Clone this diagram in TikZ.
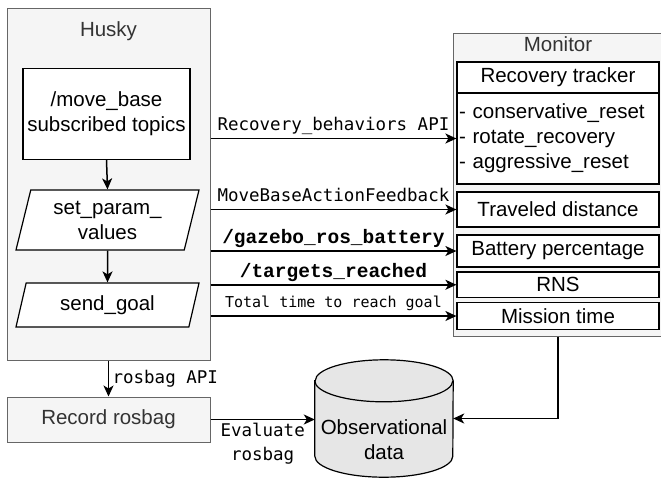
\documentclass[tikz,border=0pt]{standalone}
\usepackage{fontspec}
\setmainfont{Liberation Sans}
\newfontfamily\policemono{DejaVu Sans Mono}
\newfontfamily\policecourier{Liberation Mono}
\usetikzlibrary{arrows.meta,shapes.geometric,calc,backgrounds}
\definecolor{grisfond}{HTML}{F5F5F5}
\definecolor{grisbord}{HTML}{666666}
\definecolor{gristexte}{HTML}{333333}
\definecolor{grisbase}{HTML}{E6E6E6}

\begin{document}
\begin{tikzpicture}[x=1pt,y=-1pt]
	% Styles
	\tikzstyle{fleche}=[-{Stealth[length=11pt,width=10pt,inset=3pt]},line width=1.5pt]
	\tikzstyle{conteneur}=[draw=grisbord,fill=grisfond,line width=1pt,inner sep=0pt]
	\tikzstyle{titre}=[text=gristexte,font=\fontsize{20.5}{24}\selectfont]
	\tikzstyle{boite}=[draw,fill=white,line width=1.2pt,inner sep=0pt,align=center,font=\fontsize{20.5}{25}\selectfont]
	\tikzstyle{para}=[boite,trapezium,trapezium stretches body]
	\tikzstyle{etiquette}=[font=\policemono\fontsize{17.5}{24}\selectfont]
	\tikzstyle{etiquettegras}=[font=\policecourier\bfseries\fontsize{19.5}{22}\selectfont]
	\tikzstyle{petite}=[font=\policemono\fontsize{15}{18}\selectfont]
	\tikzstyle{cylindre}=[draw,fill=grisbase,line width=1.2pt]
	% Dimensions
	\def\LargeurBoite{202pt}
	\def\RayonX{69pt}
	\def\RayonY{21pt}
	\useasboundingbox (0,0) rectangle (661,477);
	% Noeuds : Husky
	\node[conteneur,minimum width=203pt,minimum height=352pt] (husky) at (108.5,184) {};
	\node[titre] (titrehusky) at (108.5,31) {Husky};
	\node[boite,minimum width=167pt,minimum height=91pt] (movebase) at (106.5,114) {/move\_base\\subscribed topics};
	\node[para,trapezium left angle=69,trapezium right angle=111,minimum width=183pt,minimum height=60pt] (setparam) at (107.5,220) {set\_param\_\\values};
	\node[para,trapezium left angle=62,trapezium right angle=118,minimum width=183pt,minimum height=44pt] (sendgoal) at (107.5,305) {send\_goal};
	\node[conteneur,titre,minimum width=203pt,minimum height=45pt] (record) at (108.5,419.5) {Record rosbag};
	% Noeuds : Monitor
	\node[conteneur,minimum width=210pt,minimum height=303pt] (monitor) at (558,184.5) {};
	\node[titre] (titremonitor) at (558,44) {Monitor};
	\node[boite,minimum width=\LargeurBoite,minimum height=31pt] (tracker) at (558,77.5) {Recovery tracker};
	\node[boite,text width=198pt,inner xsep=2pt,align=left,minimum height=91pt] (liste) at (558,138.5) {- conservative\_reset\\- rotate\_recovery\\- aggressive\_reset};
	\node[boite,minimum width=\LargeurBoite,minimum height=35pt] (distance) at (558,209.5) {Traveled distance};
	\node[boite,minimum width=\LargeurBoite,minimum height=32pt] (batterie) at (558,251) {Battery percentage};
	\node[boite,minimum width=\LargeurBoite,minimum height=25.5pt] (rns) at (558,284.75) {RNS};
	\node[boite,minimum width=\LargeurBoite,minimum height=27.5pt] (mission) at (558,316) {Mission time};
	% Noeud : base de donnees
	\node[minimum width=138pt,minimum height=117pt,inner sep=0pt,
		label={[align=center,yshift=-21.5pt,font=\fontsize{20.5}{25}\selectfont]center:Observational\\data}] (obs) at (384,418.5) {};
	\begin{scope}[on background layer]
		\draw[cylindre] ($(obs.north west)+(0,21)$) -- ($(obs.south west)+(0,-21)$)
			arc[start angle=180,end angle=360,x radius=\RayonX,y radius=\RayonY]
			-- ($(obs.north east)+(0,21)$)
			arc[start angle=0,end angle=180,x radius=\RayonX,y radius=\RayonY] -- cycle;
		\draw[line width=1.2pt] ($(obs.north west)+(0,21)$) arc[start angle=180,end angle=360,x radius=\RayonX,y radius=\RayonY];
	\end{scope}
	% Arcs
	\draw[fleche] (movebase.south) -- (setparam.north);
	\draw[fleche] (setparam.south) -- (sendgoal.north);
	\draw[fleche] (husky.east |- liste.west) -- (liste.west) node[midway,above,etiquette] {Recovery\_behaviors API};
	\draw[fleche] (husky.east |- distance.west) -- (distance.west) node[midway,above,yshift=4pt,etiquette] {MoveBaseActionFeedback};
	\draw[fleche] (husky.east |- batterie.west) -- (batterie.west) node[midway,above,yshift=-1pt,etiquettegras] {/gazebo\_ros\_battery};
	\draw[fleche] (husky.east |- rns.west) -- (rns.west) node[midway,above,yshift=-1pt,etiquettegras] {/targets\_reached};
	\draw[fleche] (husky.east |- mission.west) -- (mission.west) node[midway,above,yshift=1.5pt,petite] {Total time to reach goal};
	\draw[fleche] (husky.south) -- (record.north) node[midway,right,etiquette] {rosbag API};
	\draw[fleche] (record.east) -- (record.east -| obs.west) node[midway,below,align=center,etiquette] {Evaluate\\rosbag};
	\draw[fleche] (monitor.south) |- (obs.east);
\end{tikzpicture}
\end{document}
